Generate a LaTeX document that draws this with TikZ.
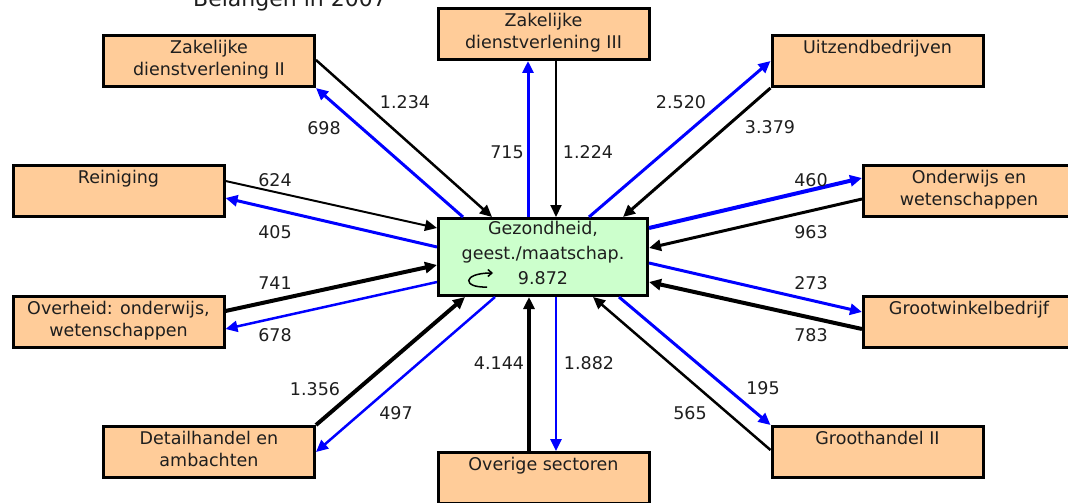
\documentclass[tikz,border=0pt]{standalone}
\usepackage{fontspec}
\setmainfont{DejaVu Sans}
\usetikzlibrary{arrows.meta,calc}
\definecolor{peach}{RGB}{255,204,153}
\definecolor{mint}{RGB}{204,255,204}
\definecolor{ink}{RGB}{30,30,30}

\begin{document}
\begin{tikzpicture}[x=1pt,y=-1pt,
  sector node/.style={rectangle,draw,line width=3pt,fill=peach,align=center,
    minimum width=211pt,minimum height=51pt,inner sep=0pt,text=ink,
    font=\fontsize{17.5}{22.5}\selectfont,
    execute at begin node=\strut,execute at end node=\strut},
  main node/.style={sector node,fill=mint,minimum width=209pt,minimum height=77pt,
    font=\fontsize{17.5}{25}\selectfont},
  num/.style={inner sep=0pt,text=ink,font=\fontsize{17.5}{20}\selectfont},
  black arrow/.style={draw=black,-{Triangle[length=12pt,width=11pt]}},
  blue arrow/.style={draw=blue,-{Triangle[length=12pt,width=11pt]}}]

  \useasboundingbox (0,0) rectangle (1068,503);

  \node[font=\fontsize{22}{26}\selectfont,text=ink,anchor=base] (title) at (290,7) {Belangen in 2007};

  \node[main node] (0) at (543,257) {Gezondheid,\\geest./maatschap.\\9.872};

  \node[sector node] (1) at (209,61) {Zakelijke\\dienstverlening II};
  \node[sector node] (2) at (543.5,34) {Zakelijke\\dienstverlening III};
  \node[sector node] (3) at (877.5,61) {Uitzendbedrijven\\};
  \node[sector node] (4) at (969,191) {Onderwijs en\\wetenschappen};
  \node[sector node] (5) at (969,322) {Grootwinkelbedrijf\\};
  \node[sector node] (6) at (877.5,452) {Groothandel II\\};
  \node[sector node] (7) at (543.5,478) {Overige sectoren\\};
  \node[sector node] (8) at (209,452) {Detailhandel en\\ambachten};
  \node[sector node] (9) at (118.5,322) {Overheid: onderwijs,\\wetenschappen};
  \node[sector node] (10) at (118.5,191) {Reiniging\\};

  \path
  ($(1.east)+(0,-1)$) edge[black arrow,line width=2.5pt] ($(0.north)+(-51,0)$)
  ($(0.north)+(-80,0)$) edge[blue arrow,line width=3pt] (1.south east)
  ($(0.north)+(-15,0)$) edge[blue arrow,line width=3pt] ($(2.south)+(-15.5,0)$)
  ($(2.south)+(12.5,0)$) edge[black arrow,line width=2pt] ($(0.north)+(13,0)$)
  ($(0.north)+(46,0)$) edge[blue arrow,line width=3pt] (3.west)
  (3.south west) edge[black arrow,line width=3pt] ($(0.north)+(80,0)$)
  ($(0.east)+(0,-29)$) edge[blue arrow,line width=4pt] ($(4.west)+(0,-13)$)
  ($(4.west)+(0,8)$) edge[black arrow,line width=3pt] ($(0.east)+(0,-9)$)
  ($(0.east)+(0,6)$) edge[blue arrow,line width=3pt] ($(5.west)+(0,-10)$)
  ($(5.west)+(0,7)$) edge[black arrow,line width=4pt] ($(0.east)+(0,25)$)
  ($(0.south)+(76,0)$) edge[blue arrow,line width=3pt] (6.north west)
  ($(6.west)+(0,-2)$) edge[black arrow,line width=2.5pt] ($(0.south)+(50,0)$)
  ($(7.north)+(-14.5,0)$) edge[black arrow,line width=3.5pt] ($(0.south)+(-14,0)$)
  ($(0.south)+(13,0)$) edge[blue arrow,line width=2.5pt] ($(7.north)+(12.5,0)$)
  (8.north east) edge[black arrow,line width=4pt] ($(0.south)+(-78,0)$)
  ($(0.south)+(-48,0)$) edge[blue arrow,line width=2.5pt] (8.east)
  ($(9.east)+(0,-11)$) edge[black arrow,line width=4pt] ($(0.west)+(0,8)$)
  ($(0.west)+(0,25)$) edge[blue arrow,line width=2.5pt] ($(9.east)+(0,7)$)
  ($(10.east)+(0,-10)$) edge[black arrow,line width=2pt] ($(0.west)+(0,-29)$)
  ($(0.west)+(0,-10)$) edge[blue arrow,line width=3pt] ($(10.east)+(0,7)$);

  % own deliveries inside the sector
  \coordinate (loop) at ($(0.south west)+(50,-10)$);
  \draw[line width=1.5pt,-{Straight Barb[length=4pt,width=7pt]}] (loop)
    .. controls +(-25,1) and +(-31,0) .. ($(loop)+(6,-14)$);

  \node[num] (a1) at (405,102) {1.234};
  \node[num] (a2) at (324,128) {698};
  \node[num] (a3) at (507,152) {715};
  \node[num] (a4) at (588,152) {1.224};
  \node[num] (a5) at (681,102) {2.520};
  \node[num] (a6) at (770,127) {3.379};
  \node[num] (a7) at (811,180) {460};
  \node[num] (a8) at (811,232) {963};
  \node[num] (a9) at (811,283) {273};
  \node[num] (a10) at (811,335) {783};
  \node[num] (a11) at (763,388) {195};
  \node[num] (a12) at (690,413) {565};
  \node[num] (a13) at (499,363) {4.144};
  \node[num] (a14) at (589,363) {1.882};
  \node[num] (a15) at (315,389) {1.356};
  \node[num] (a16) at (396,413) {497};
  \node[num] (a17) at (275,283) {741};
  \node[num] (a18) at (275,335) {678};
  \node[num] (a19) at (275,180) {624};
  \node[num] (a20) at (275,232) {405};
\end{tikzpicture}
\end{document}
